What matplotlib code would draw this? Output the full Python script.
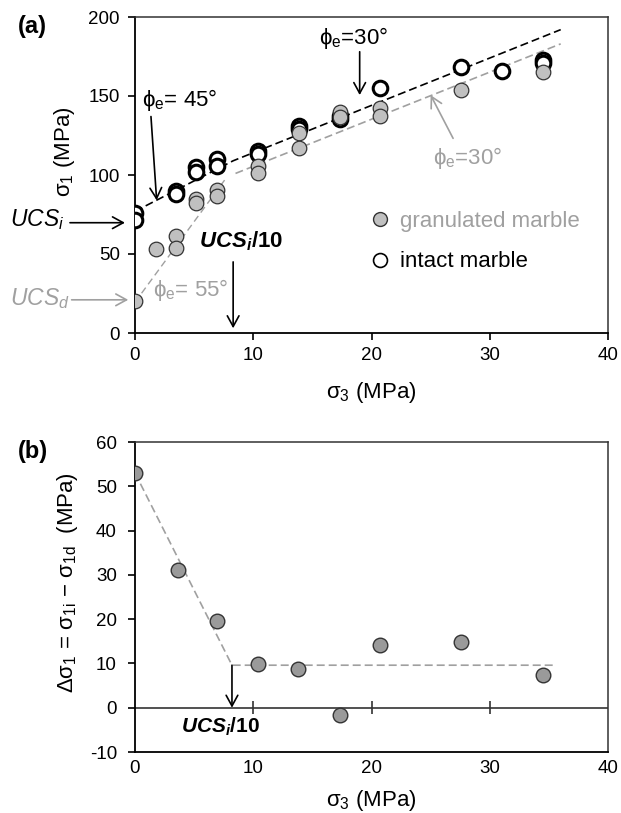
import matplotlib
matplotlib.use("Agg")
import matplotlib.pyplot as plt
from matplotlib.lines import Line2D

plt.rcParams['font.family'] = ['Liberation Sans', 'DejaVu Sans']
plt.rcParams['mathtext.fontset'] = 'custom'
plt.rcParams['mathtext.rm'] = 'Liberation Sans'
plt.rcParams['mathtext.it'] = 'Liberation Sans:italic'
plt.rcParams['mathtext.bf'] = 'Liberation Sans:bold'
plt.rcParams['mathtext.bfit'] = 'Liberation Sans:italic:bold'
plt.rcParams['axes.unicode_minus'] = False

# panel (a) data: sigma3 / sigma1 (MPa)
sig3_intact = [0, 0, 3.45, 3.45, 5.2, 5.2, 6.9, 6.9, 10.4, 10.4, 13.9, 13.9,
               17.3, 17.3, 20.7, 27.6, 31.0, 34.5, 34.5]
sig1_intact = [76, 71.5, 90, 88, 105, 102, 110, 106, 115, 113, 131, 129,
               137.5, 135.5, 155, 168.5, 166, 173, 171]
sig3_gran = [0, 1.75, 3.45, 3.45, 5.2, 5.2, 6.9, 6.9, 10.4, 10.4, 13.9, 13.9,
             17.3, 17.3, 20.7, 20.7, 27.6, 34.5]
sig1_gran = [20, 53, 61.5, 54, 85, 82.5, 90.5, 86.5, 106, 101.5, 126.5, 117,
             140, 136.5, 142.5, 137.5, 154, 165]

# envelope lines
intact_line_x = [0, 8.3, 36]
intact_line_y = [77, 109, 192]
gran_steep_x = [0, 7.6]
gran_steep_y = [19.5, 97]
gran_flat_x = [8.5, 36]
gran_flat_y = [101, 183]

# panel (b) data
sig3_b = [0, 3.6, 6.9, 10.4, 13.8, 17.3, 20.7, 27.6, 34.5]
dsig_b = [53, 31, 19.5, 9.8, 8.8, -1.7, 14.2, 14.9, 7.5]
trend_b_x = [0, 8.2, 35.5]
trend_b_y = [53, 9.6, 9.6]

GRAY_TXT = '#a0a0a0'
W, H = 621, 813
fig = plt.figure(figsize=(W / 100, H / 100), dpi=100)

ax1 = fig.add_axes([135 / W, 1 - 333 / H, 473 / W, 316 / H])
ax2 = fig.add_axes([135 / W, 1 - 752 / H, 473 / W, 310 / H])

for ax in (ax1, ax2):
    for s in ('left', 'bottom'):
        ax.spines[s].set_linewidth(1.3)
        ax.spines[s].set_color('black')
    for s in ('top', 'right'):
        ax.spines[s].set_linewidth(1.1)
        ax.spines[s].set_color('#333333')
    ax.set_xlim(0, 40)
    ax.set_xticks([0, 10, 20, 30, 40])

arrow = dict(arrowstyle='->,head_length=0.55,head_width=0.3', lw=1.2,
             color='black', shrinkA=0, shrinkB=0, mutation_scale=14)
arrow_g = dict(arrow, color=GRAY_TXT)

# ---------- (a)
ax1.set_ylim(0, 200)
ax1.set_yticks([0, 50, 100, 150, 200])
ax1.tick_params(axis='both', direction='out', length=5, width=1.2,
                labelsize=13.5, top=False, right=False)
ax1.tick_params(axis='y', pad=6)
ax1.tick_params(axis='x', pad=5)

ax1.plot(intact_line_x, intact_line_y, color='black', lw=1.2,
         dashes=(4.8, 2.4), zorder=1)
ax1.plot(gran_steep_x, gran_steep_y, color='#a0a0a0', lw=1.0,
         dashes=(5, 3), zorder=1)
ax1.plot(gran_flat_x, gran_flat_y, color='#a0a0a0', lw=1.2,
         dashes=(4.8, 2.4), zorder=1)

ax1.plot(sig3_intact, sig1_intact, 'o', ms=10.5, mfc='white', mec='black',
         mew=2.2, ls='none', zorder=3)
ax1.plot(sig3_gran, sig1_gran, 'o', ms=10.5, mfc='#c0c0c0', mec='#333333',
         mew=0.9, ls='none', zorder=4)

h1 = Line2D([], [], marker='o', ls='none', ms=10, mfc='#c0c0c0',
            mec='#333333', mew=1.0)
h2 = Line2D([], [], marker='o', ls='none', ms=10, mfc='white',
            mec='black', mew=1.2)
leg = ax1.legend([h1, h2], ['granulated marble', 'intact marble'],
                 loc='upper left', bbox_to_anchor=(0.453, 0.449),
                 frameon=False, fontsize=16, handlelength=1.0,
                 handletextpad=0.4, labelspacing=0.87, borderpad=0.4)
leg.get_texts()[0].set_color(GRAY_TXT)

ax1.set_xlabel('σ$_3$ (MPa)', fontsize=16)
ax1.xaxis.set_label_coords(0.5, -0.187)
ax1.xaxis.label.set_va('center')
ax1.set_ylabel('σ$_1$ (MPa)', fontsize=16)
ax1.yaxis.set_label_coords(-0.148, 0.573)
ax1.yaxis.label.set_va('center')

ax1.text(0.6, 147.5, 'ϕ$_\\mathrm{e}$= 45°', fontsize=16, va='center')
ax1.annotate('', xy=(1.83, 84), xytext=(1.35, 137), arrowprops=arrow)
ax1.text(15.6, 186.7, 'ϕ$_\\mathrm{e}$=30°', fontsize=16, va='center')
ax1.annotate('', xy=(19.0, 150.6), xytext=(19.0, 178), arrowprops=arrow)
ax1.text(25.2, 110.8, 'ϕ$_\\mathrm{e}$=30°', fontsize=16, va='center',
         color=GRAY_TXT)
ax1.annotate('', xy=(25.0, 150.6), xytext=(26.9, 123.2), arrowprops=arrow_g)
ax1.text(1.5, 27, 'ϕ$_\\mathrm{e}$= 55°', fontsize=16, va='center',
         color=GRAY_TXT)

ax1.text(-10.6, 71.5, 'UCS$_\\mathit{i}$', fontsize=16.5, style='italic',
         va='center')
ax1.annotate('', xy=(-0.85, 69.8), xytext=(-5.5, 69.8), arrowprops=arrow,
             annotation_clip=False)
ax1.text(-10.6, 22, 'UCS$_\\mathit{d}$', fontsize=16.5, style='italic',
         va='center', color=GRAY_TXT)
ax1.annotate('', xy=(-0.57, 21), xytext=(-5.36, 21), arrowprops=arrow_g,
             annotation_clip=False)
ax1.text(5.4, 57.8, '$\\mathbfit{UCS_i}$/10', fontsize=16, weight='bold',
         va='center')
ax1.annotate('', xy=(8.3, 3), xytext=(8.3, 45), arrowprops=arrow)

fig.text(18 / W, 1 - 27 / H, '(a)', fontsize=17, weight='bold', va='center')

# ---------- (b)
ax2.set_ylim(-10, 60)
ax2.set_yticks([-10, 0, 10, 20, 30, 40, 50, 60])
ax2.tick_params(axis='y', direction='out', length=5, width=1.2,
                labelsize=13.5, pad=8, right=False)
ax2.tick_params(axis='x', length=0, labelsize=13.5, pad=6, top=False)

ax2.axhline(0, color='#333333', lw=1.2, zorder=1)
ax2.vlines([10, 20, 30], -1.5, 1.5, color='#333333', lw=1.2, zorder=1)
ax2.plot(trend_b_x, trend_b_y, color='#a0a0a0', lw=1.2, dashes=(4.8, 2.4),
         zorder=2)
ax2.plot(sig3_b, dsig_b, 'o', ms=10.5, mfc='#9a9a9a', mec='#333333',
         mew=1.0, ls='none', zorder=4)

ax2.text(3.86, -4.4, '$\\mathbfit{UCS_i}$/10', fontsize=15, weight='bold',
         va='center')
ax2.annotate('', xy=(8.2, 0), xytext=(8.2, 9.6), arrowprops=arrow)

ax2.set_xlabel('σ$_3$ (MPa)', fontsize=16)
ax2.xaxis.set_label_coords(0.5, -0.155)
ax2.xaxis.label.set_va('center')
ax2.set_ylabel('Δσ$_1$ = σ$_\\mathrm{1i}$ − σ$_\\mathrm{1d}$  (MPa)',
               fontsize=16)
ax2.yaxis.set_label_coords(-0.143, 0.545)
ax2.yaxis.label.set_va('center')

fig.text(18 / W, 1 - 451 / H, '(b)', fontsize=17, weight='bold', va='center')

fig.savefig('out.png', dpi=100)
